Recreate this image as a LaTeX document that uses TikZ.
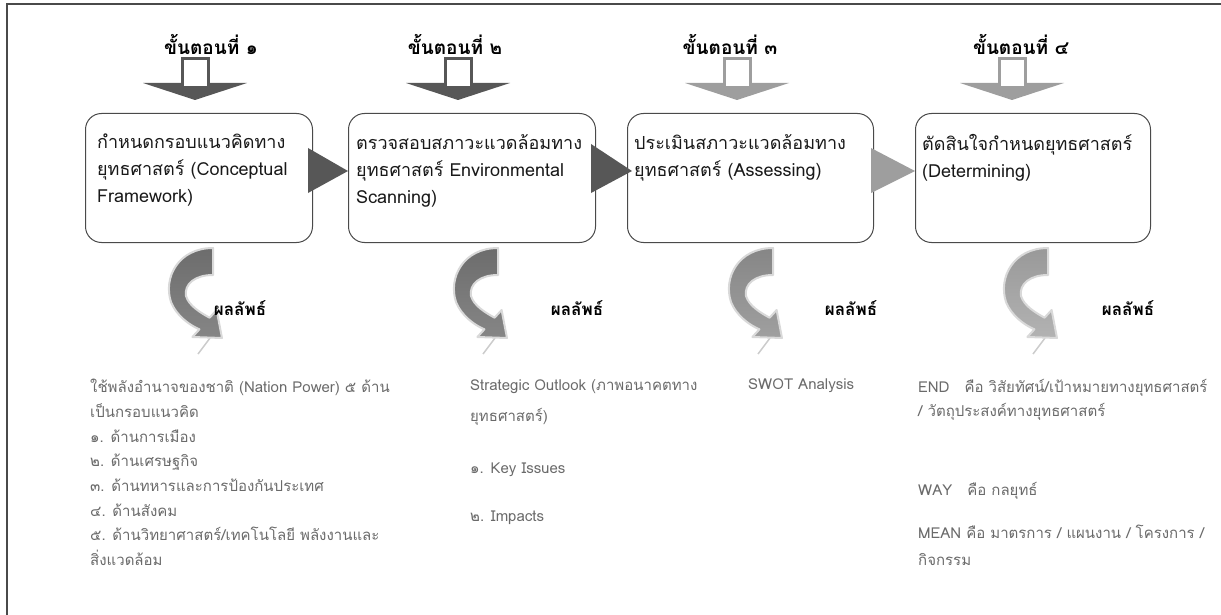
\documentclass[tikz,border=0pt]{standalone}
\usepackage{fontspec}
\setmainfont{Loma}[Script=Thai]
\usetikzlibrary{calc, arrows.meta}

\definecolor{arrowdark}{HTML}{575757}
\definecolor{arrowlight}{HTML}{9E9E9E}
\definecolor{frameline}{HTML}{4A4A4A}
\definecolor{listtext}{HTML}{6A6A6A}

% hollow down arrow: top centre, colour
\newcommand{\hollowdown}[2]{%
  \begin{scope}[shift={#1}]
    \fill[#2] (-52,26) -- (52,26) -- (0,43) -- cycle;
    \filldraw[draw=#2, fill=white, line width=3pt] (-13,29) -- (-13,1.5) -- (13,1.5) -- (13,29);
  \end{scope}}

% curved result arrow: top end, top colour, bottom colour
\newcommand{\resultarrow}[3]{%
  \begin{scope}[shift={#1}]
    \draw[gray!40, line width=1.5pt] (-3,90) -- (-15,106);
    \shadedraw[draw=gray!30, line width=2pt, line join=round, top color=#2, bottom color=#3]
      (0,0) .. controls (-35,0) and (-50,30) .. (-42,54)
      .. controls (-37,67) and (-24,77) .. (-13.6,81.3) -- (-20.6,89) -- (9,90)
      -- (3.6,62) -- (-3.4,69.7) .. controls (-12,65) and (-24,58) .. (-27,48)
      .. controls (-29,36) and (-18,27) .. (0,27) -- cycle;
  \end{scope}}

\begin{document}
\begin{tikzpicture}[x=1pt, y=-1pt,
    stagebox/.style={draw=frameline, line width=1pt, fill=white, rounded corners=16pt,
      anchor=north west, minimum height=129pt, inner sep=0pt},
    boxtext/.style={anchor=north west, align=left, inner sep=0pt, text=black!90,
      font=\fontsize{18}{27}\selectfont},
    steplabel/.style={font=\bfseries\fontsize{19}{20}\selectfont, inner sep=0pt},
    resultlabel/.style={font=\bfseries\fontsize{17}{18}\selectfont, inner sep=0pt},
    listnote/.style={anchor=north west, align=left, inner sep=0pt, text=listtext}]
  \useasboundingbox (0,0) rectangle (1221,615);
  \clip (0,0) rectangle (1221,615);
  \draw[frameline, line width=1.5pt] (7,4) rectangle (1240,640);

  % step labels
  \node[steplabel] (s1) at (211,44) {ขั้นตอนที่ ๑};
  \node[steplabel] (s2) at (455,44) {ขั้นตอนที่ ๒};
  \node[steplabel] (s3) at (730,44) {ขั้นตอนที่ ๓};
  \node[steplabel] (s4) at (1021,44) {ขั้นตอนที่ ๔};

  \hollowdown{(195,57)}{arrowdark}
  \hollowdown{(458,57)}{arrowdark}
  \hollowdown{(737,57)}{arrowlight}
  \hollowdown{(1012,57)}{arrowlight}

  % stages
  \node[stagebox, minimum width=227pt] (b1) at (85,113) {};
  \node[stagebox, minimum width=247pt] (b2) at (348,113) {};
  \node[stagebox, minimum width=246pt] (b3) at (627,113) {};
  \node[stagebox, minimum width=235pt] (b4) at (915,113) {};

  \node[boxtext] (t1) at ($(b1.north west)+(12,21)$) {กำหนดกรอบแนวคิดทาง\\ยุทธศาสตร์ (Conceptual\\Framework)};
  \node[boxtext] (t2) at ($(b2.north west)+(8,21)$) {ตรวจสอบสภาวะแวดล้อมทาง\\ยุทธศาสตร์ Environmental\\Scanning)};
  \node[boxtext] (t3) at ($(b3.north west)+(7,21)$) {ประเมินสภาวะแวดล้อมทาง\\ยุทธศาสตร์ (Assessing)};
  \node[boxtext] (t4) at ($(b4.north west)+(7,21)$) {ตัดสินใจกำหนดยุทธศาสตร์\\(Determining)};

  \fill[arrowdark] ($(b1.east)+(-5,-30)$) -- ($(b2.west)+(0,-7)$) -- ($(b1.east)+(-5,15)$) -- cycle;
  \fill[arrowdark] ($(b2.east)+(-5,-34)$) -- ($(b3.west)+(5,-7)$) -- ($(b2.east)+(-5,15)$) -- cycle;
  \fill[arrowlight] ($(b3.east)+(-3,-30)$) -- ($(b4.west)+(0,-7)$) -- ($(b3.east)+(-3,15)$) -- cycle;

  % results
  \resultarrow{($(b1.south east)+(-100,5)$)}{gray!85!black}{gray!95}
  \resultarrow{($(b2.south east)+(-98,5)$)}{gray!85!black}{gray!95}
  \resultarrow{($(b3.south east)+(-101,5)$)}{gray!95}{gray!75}
  \resultarrow{($(b4.south east)+(-103,5)$)}{gray!80}{gray!60}

  \node[resultlabel] (r1) at (240,308) {ผลลัพธ์};
  \node[resultlabel] (r2) at (577,308) {ผลลัพธ์};
  \node[resultlabel] (r3) at (851,308) {ผลลัพธ์};
  \node[resultlabel] (r4) at (1128,308) {ผลลัพธ์};

  % outputs
  \node[listnote, font=\fontsize{15}{24.7}\selectfont] (o1) at (90,379)
    {ใช้พลังอำนาจของชาติ (Nation Power) ๕ ด้าน\\เป็นกรอบแนวคิด\\๑. ด้านการเมือง\\๒. ด้านเศรษฐกิจ\\๓. ด้านทหารและการป้องกันประเทศ\\๔. ด้านสังคม\\๕. ด้านวิทยาศาสตร์/เทคโนโลยี พลังงานและ\\สิ่งแวดล้อม};
  \node[listnote, font=\fontsize{15}{31}\selectfont] (o2) at (470,379) {Strategic Outlook (ภาพอนาคตทาง\\ยุทธศาสตร์)};
  \node[listnote, font=\fontsize{15}{18}\selectfont] (o3) at (470,463) {๑. Key Issues};
  \node[listnote, font=\fontsize{15}{18}\selectfont] (o4) at (470,511) {๒. Impacts};
  \node[listnote, font=\fontsize{15}{18}\selectfont] (o5) at (748,379) {SWOT Analysis};
  \node[listnote, font=\fontsize{15}{24}\selectfont] (o6) at (918,379) {END\quad คือ วิสัยทัศน์/เป้าหมายทางยุทธศาสตร์\\/ วัตถุประสงค์ทางยุทธศาสตร์};
  \node[listnote, font=\fontsize{15}{18}\selectfont] (o7) at (918,482) {WAY\quad คือ กลยุทธ์};
  \node[listnote, font=\fontsize{15}{27}\selectfont] (o8) at (918,525) {MEAN คือ มาตรการ / แผนงาน / โครงการ /\\กิจกรรม};
\end{tikzpicture}
\end{document}
